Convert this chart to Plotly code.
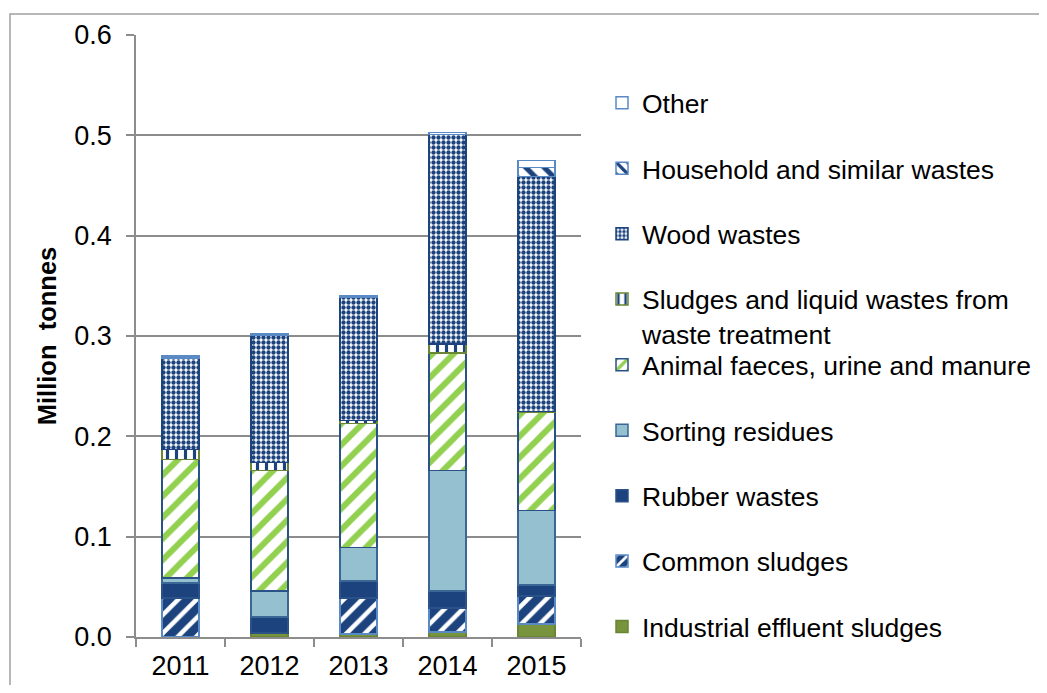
import plotly.graph_objects as go

years = ["2011", "2012", "2013", "2014", "2015"]

industrial_effluent = [0.0, 0.004, 0.003, 0.005, 0.013]
common_sludges = [0.039, 0.0, 0.036, 0.024, 0.028]
rubber_wastes = [0.015, 0.016, 0.017, 0.017, 0.011]
sorting_residues = [0.005, 0.026, 0.033, 0.120, 0.074]
animal_faeces = [0.118, 0.120, 0.124, 0.117, 0.098]
sludges_waste_treatment = [0.010, 0.008, 0.003, 0.009, 0.001]
wood_wastes = [0.091, 0.127, 0.123, 0.209, 0.234]
household_wastes = [0.0, 0.0, 0.0, 0.0, 0.009]
other = [0.002, 0.001, 0.001, 0.002, 0.007]

NAVY = "#1C437D"
LIGHTBLUE_LINE = "#5A8AC6"
GREEN = "#92D050"
OLIVE = "#77933C"
SORT = "#95C0CF"

# (name, values, marker, legend box)
series = [
    ("Industrial effluent sludges", industrial_effluent,
     dict(color=OLIVE, line=dict(color="#6A8534", width=1.5)), "legend2"),
    ("Common sludges", common_sludges,
     dict(color=NAVY, line=dict(color=LIGHTBLUE_LINE, width=1.5),
          pattern=dict(shape="/", fgcolor="white", bgcolor=NAVY, size=13, solidity=0.35, fillmode="replace")), "legend2"),
    ("Rubber wastes", rubber_wastes,
     dict(color=NAVY, line=dict(color="#2A5289", width=1.5)), "legend2"),
    ("Sorting residues", sorting_residues,
     dict(color=SORT, line=dict(color="#3A6795", width=1.5)), "legend2"),
    ("Animal faeces, urine and manure", animal_faeces,
     dict(color="white", line=dict(color="#2A5289", width=1.5),
          pattern=dict(shape="/", fgcolor=GREEN, bgcolor="white", size=15, solidity=0.4, fillmode="replace")), "legend2"),
    ("Sludges and liquid wastes from<br>waste treatment", sludges_waste_treatment,
     dict(color="white", line=dict(color="#6A8534", width=1.5),
          pattern=dict(shape="|", fgcolor=NAVY, bgcolor="white", size=9, solidity=0.35, fillmode="replace")), "legend"),
    ("Wood wastes", wood_wastes,
     dict(color="white", line=dict(color=NAVY, width=1.5),
          pattern=dict(shape=".", fgcolor=NAVY, bgcolor="white", size=5, solidity=0.6, fillmode="replace")), "legend"),
    ("Household and similar wastes", household_wastes,
     dict(color="white", line=dict(color=LIGHTBLUE_LINE, width=1.5),
          pattern=dict(shape="\\", fgcolor=NAVY, bgcolor="white", size=13, solidity=0.4, fillmode="replace")), "legend"),
    ("Other", other,
     dict(color="white", line=dict(color=LIGHTBLUE_LINE, width=1.5)), "legend"),
]

fig = go.Figure()
n = len(series)
for i, (name, vals, marker, lg) in enumerate(series):
    fig.add_trace(go.Bar(x=years, y=vals, name=name, marker=marker,
                         legendgroup=name, legendrank=n - i, legend=lg))

# page body has an 8px margin, so work in figure pixels = reference pixels - 8
OFF = 8
W, H = 1047 - 2 * OFF, 693 - 2 * OFF
plot_left, plot_right, plot_top, plot_bottom = 136 - OFF, 581 - OFF, 35 - OFF, 637 - OFF
L, R, T, B = plot_left, W - plot_right, plot_top, H - plot_bottom
pw, ph = plot_right - plot_left, plot_bottom - plot_top

def px_x(p):
    return (p - OFF - plot_left) / pw

def px_y(p):
    return (plot_bottom - (p - OFF)) / ph

legend_common = dict(
    traceorder="grouped",
    tracegroupgap=28,
    valign="top",
    xref="container", yref="container",
    xanchor="left", yanchor="top",
    font=dict(size=26.5),
    bgcolor="rgba(0,0,0,0)",
    maxheight=1000,
    itemclick=False,
)

fig.update_layout(
    width=W, height=H,
    margin=dict(l=L, r=R, t=T, b=B, autoexpand=False),
    barmode="stack",
    bargap=0.58,
    plot_bgcolor="white",
    paper_bgcolor="white",
    font=dict(family="Liberation Sans, Arial, sans-serif", size=26, color="black"),
    showlegend=True,
    legend=dict(legend_common, x=(602 - OFF) / W, y=1 - (79 - OFF) / H),
    legend2=dict(legend_common, x=(602 - OFF) / W, y=1 - (341 - OFF) / H),
    xaxis=dict(
        type="category",
        automargin=False,
        showline=True, linecolor="#8C8C8C", linewidth=1.5,
        ticks="outside", tickson="boundaries", ticklen=8, tickcolor="#8C8C8C", tickwidth=1.5,
        showgrid=False,
        ticklabelstandoff=4,
        tickfont=dict(size=27),
    ),
    yaxis=dict(
        range=[0, 0.6], dtick=0.1, tickformat=".1f",
        automargin=False,
        showline=True, linecolor="#8C8C8C", linewidth=1.5,
        ticks="outside", ticklen=8, tickcolor="#8C8C8C", tickwidth=1.5,
        showgrid=True, gridcolor="#8C8C8C", gridwidth=1.5,
        zeroline=False,
        ticklabelstandoff=9,
        tickfont=dict(size=27),
        title=dict(text="<b>Million\u00a0 tonnes</b>", font=dict(size=25.5), standoff=10),
    ),
    shapes=[
        dict(type="rect", xref="paper", yref="paper",
             x0=px_x(10), x1=px_x(1047 + 20), y0=px_y(693 + 20), y1=px_y(14),
             line=dict(color="#A0A0A0", width=1.5), fillcolor="rgba(0,0,0,0)", layer="below"),
    ],
)

fig.write_html("out.html")
